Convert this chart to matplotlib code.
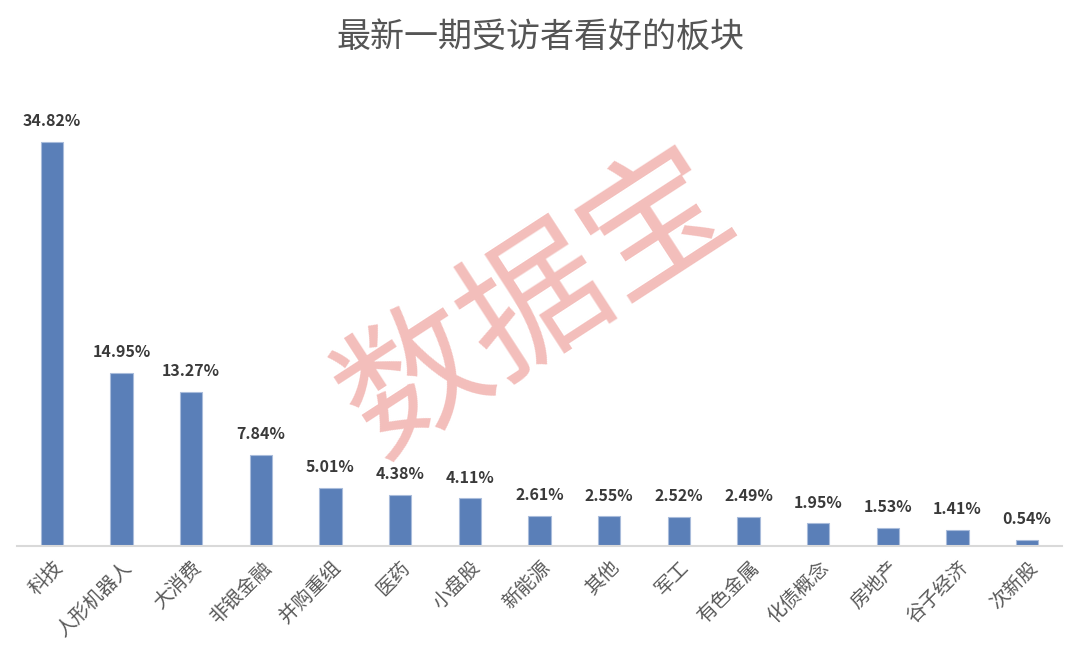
import matplotlib
matplotlib.use("Agg")
import matplotlib.pyplot as plt
import numpy as np

plt.rcParams['font.family'] = ['Noto Sans CJK SC', 'DejaVu Sans']

# 数据
sectors = ['科技', '人形机器人', '大消费', '非银金融', '并购重组', '医药', '小盘股',
           '新能源', '其他', '军工', '有色金属', '化债概念', '房地产', '谷子经济', '次新股']
shares = [34.82, 14.95, 13.27, 7.84, 5.01, 4.38, 4.11,
          2.61, 2.55, 2.52, 2.49, 1.95, 1.53, 1.41, 0.54]
labels = ['%.2f%%' % v for v in shares]

fig = plt.figure(figsize=(10.8, 6.51), dpi=100)
ax = fig.add_axes([0.0157, 0.1613, 0.9676, 0.685])

x = np.arange(len(sectors))
bars = ax.bar(x, shares, width=0.32, color='#5A7FB8', edgecolor='#A9BCDB', linewidth=0.8, zorder=2)

for xi, v, lab in zip(x, shares, labels):
    ax.text(xi, v + 1.1, lab, ha='center', va='bottom', fontsize=11.5,
            color='#3A3A3A', fontweight='semibold', zorder=3)

ax.set_xlim(-0.5, len(sectors) - 0.5)
ax.set_ylim(0, 38.45)
ax.set_yticks([])
ax.set_xticks(x)
ax.set_xticklabels(sectors, rotation=45, ha='right', rotation_mode='anchor',
                   fontsize=14, color='#595959', fontweight='light')
ax.tick_params(axis='x', length=0, pad=8)
for s in ['top', 'right', 'left']:
    ax.spines[s].set_visible(False)
ax.spines['bottom'].set_color('#D9D9D9')
ax.spines['bottom'].set_linewidth(1.5)

fig.text(0.5, 0.942, '最新一期受访者看好的板块', ha='center', va='center',
         fontsize=24.5, color='#555555', fontweight='medium')

# 水印
fig.text(537 / 1080, 1 - 304 / 651, '数据宝', ha='center', va='center',
         fontsize=104, color='#EFA8A4', alpha=0.75, rotation=33,
         fontweight='light', zorder=5)

fig.savefig('out.png', dpi=100)
